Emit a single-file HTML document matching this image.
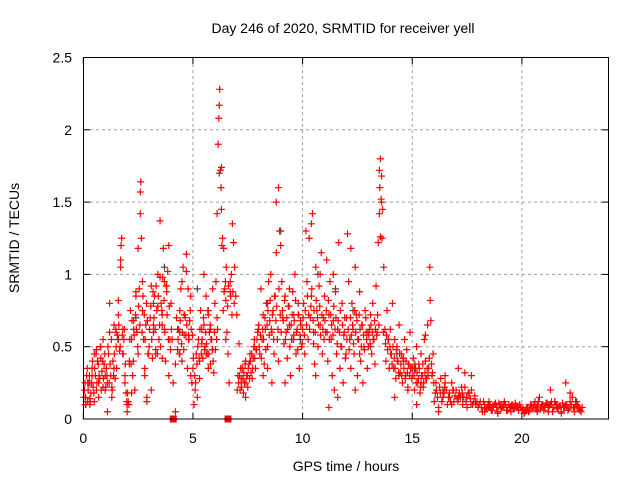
<!DOCTYPE html>
<html><head><meta charset="utf-8"><style>
body{margin:0;background:#fff;}
svg text{font-family:"Liberation Sans",sans-serif;font-size:14px;fill:#000;}
</style></head><body>
<svg id="chart" width="640" height="480">
<rect width="640" height="480" fill="#fff"/>
<text x="343" y="33" text-anchor="middle">Day 246 of 2020, SRMTID for receiver yell</text>
<text x="346" y="471" text-anchor="middle">GPS time / hours</text>
<text transform="translate(19,238) rotate(-90)" text-anchor="middle">SRMTID / TECUs</text>
<g id="grid"></g>
<g id="ticks"></g>
<g id="marks"></g>
<rect x="83.5" y="57.5" width="525" height="361.5" fill="none" stroke="#000"/>
</svg>
<script>
const xTicks=[0,5,10,15,20];
const yTicks=[0,0.5,1,1.5,2,2.5];
const yTickLabels=["0","0.5","1","1.5","2","2.5"];
const redT=[0.05,0.1,0.15,0.2,0.25,0.3,0.35,0.4,0.45,0.5,0.55,0.6,0.65,0.7,0.75,0.8,0.85,0.9,0.95,1.0,0.1,0.2,0.3,0.4,0.5,0.6,0.7,0.8,0.9,1.0,
1.05,1.1,1.15,1.2,1.25,1.3,1.35,1.4,1.45,1.5,1.55,1.6,1.65,1.7,1.72,1.75,1.8,1.85,1.9,1.95,1.1,1.2,1.3,1.4,1.5,1.6,1.7,1.8,1.9,2.0,
2.0,2.05,2.1,2.15,2.2,2.25,2.3,2.35,2.4,2.45,2.5,2.55,2.6,2.6,2.62,2.65,2.7,2.75,2.8,2.85,2.9,2.95,2.1,2.2,2.3,2.4,2.5,2.7,2.8,2.9,
3.0,3.05,3.1,3.15,3.2,3.25,3.3,3.35,3.4,3.45,3.5,3.55,3.6,3.65,3.7,3.75,3.8,3.85,3.9,3.95,3.1,3.2,3.3,3.4,3.6,3.7,3.8,3.9,3.5,3.6,
4.0,4.05,4.1,4.15,4.2,4.25,4.3,4.35,4.4,4.45,4.5,4.55,4.6,4.65,4.7,4.75,4.8,4.85,4.9,4.95,4.2,4.3,4.4,4.5,4.6,4.7,4.8,4.9,
5.0,5.05,5.1,5.15,5.2,5.25,5.3,5.35,5.4,5.45,5.5,5.55,5.6,5.65,5.7,5.75,5.8,5.85,5.9,5.95,5.3,5.4,5.5,5.6,5.7,5.8,5.9,
6.0,6.05,6.1,6.15,6.18,6.2,6.22,6.25,6.28,6.3,6.32,6.35,6.4,6.45,6.5,6.55,6.6,6.65,6.7,6.75,6.8,6.85,6.9,6.95,6.1,6.3,6.5,6.7,
7.0,7.05,7.1,7.15,7.2,7.25,7.3,7.35,7.4,7.45,7.5,7.55,7.6,7.65,7.7,7.75,7.8,7.85,7.9,7.95,7.2,7.4,7.6,7.8,
8.0,8.05,8.1,8.15,8.2,8.25,8.3,8.35,8.4,8.45,8.5,8.55,8.6,8.65,8.7,8.75,8.8,8.85,8.9,8.95,8.2,8.4,8.6,8.8,8.9,
9.0,9.05,9.1,9.15,9.2,9.25,9.3,9.35,9.4,9.45,9.5,9.55,9.6,9.65,9.7,9.75,9.8,9.85,9.9,9.95,9.2,9.4,9.6,9.8,
10.0,10.05,10.1,10.15,10.2,10.25,10.3,10.35,10.4,10.45,10.5,10.55,10.6,10.65,10.7,10.75,10.8,10.85,10.9,10.95,10.4,10.6,10.8,10.5,
11.0,11.05,11.1,11.15,11.2,11.25,11.3,11.35,11.4,11.45,11.5,11.55,11.6,11.65,11.7,11.75,11.8,11.85,11.9,11.95,11.2,11.4,11.6,
12.0,12.05,12.1,12.15,12.2,12.25,12.3,12.35,12.4,12.45,12.5,12.55,12.6,12.65,12.7,12.75,12.8,12.85,12.9,12.95,12.2,12.4,12.6,
13.0,13.05,13.1,13.15,13.2,13.25,13.3,13.35,13.4,13.45,13.5,13.52,13.55,13.58,13.6,13.62,13.65,13.7,13.75,13.8,13.85,13.9,13.95,13.5,13.55,13.6,
14.0,14.05,14.1,14.15,14.2,14.25,14.3,14.35,14.4,14.45,14.5,14.55,14.6,14.65,14.7,14.75,14.8,14.85,14.9,14.95,14.2,14.4,14.6,14.8,
15.0,15.05,15.1,15.15,15.2,15.25,15.3,15.35,15.4,15.45,15.5,15.55,15.6,15.65,15.7,15.75,15.8,15.82,15.85,15.9,15.95,15.2,15.4,15.6,
16.0,16.1,16.2,16.3,16.4,16.5,16.6,16.7,16.8,16.9,17.0,17.1,17.2,17.3,17.4,17.5,17.6,17.7,17.8,17.9,16.2,16.5,16.8,17.1,17.4,17.7,
18.0,18.1,18.2,18.3,18.4,18.5,18.6,18.7,18.8,18.9,19.0,19.1,19.2,19.3,19.4,19.5,19.6,19.7,19.8,19.9,
20.0,20.1,20.2,20.3,20.4,20.5,20.6,20.7,20.8,20.9,21.0,21.1,21.2,21.3,21.4,21.5,21.6,21.7,21.8,21.9,
22.0,22.1,22.2,22.3,22.4,22.5,22.6,22.7,21.3,21.5,22.0,22.2];
const redV=[0.2,0.15,0.3,0.12,0.25,0.1,0.18,0.35,0.22,0.45,0.3,0.2,0.4,0.15,0.28,0.5,0.33,0.22,0.38,0.3,0.1,0.25,0.14,0.3,0.12,0.48,0.25,0.42,0.55,0.2,
0.35,0.25,0.45,0.6,0.3,0.22,0.4,0.65,0.28,0.5,0.58,0.82,0.47,1.05,1.2,1.25,0.62,0.55,0.3,0.18,0.05,0.8,0.15,0.35,0.6,0.72,1.1,0.45,0.25,0.1,
0.05,0.12,0.4,0.75,0.55,0.3,0.68,0.2,0.85,0.6,0.45,0.9,1.42,1.57,1.64,1.25,0.75,0.55,0.3,0.65,0.15,0.45,0.38,0.18,0.62,0.88,1.18,0.95,0.35,0.12,
0.5,0.7,0.92,0.42,0.6,0.85,0.48,0.75,1.0,0.55,1.37,0.8,0.65,1.18,0.95,0.4,0.88,1.02,0.3,0.55,0.2,0.65,0.45,0.78,0.72,0.62,0.92,1.2,0.98,0.42,
0.8,0.55,0.25,0.0,0.05,0.7,0.48,0.62,0.75,0.9,0.4,1.05,0.58,0.7,1.14,0.35,0.55,0.68,0.85,0.25,0.38,0.62,0.45,0.95,0.72,1.02,0.58,0.3,
0.35,0.1,0.2,0.45,0.15,0.55,0.4,0.75,0.62,0.42,1.0,0.5,0.85,0.45,0.72,0.6,0.38,0.55,0.9,0.32,0.28,0.52,0.65,0.45,0.35,0.62,0.48,
0.8,0.95,1.42,1.9,2.08,2.17,2.28,1.72,1.6,1.45,1.2,1.25,1.18,0.9,0.82,0.6,0.45,0.25,0.88,1.0,1.35,1.22,1.05,0.85,0.7,1.74,0.55,0.95,
0.72,0.3,0.52,0.2,0.28,0.35,0.18,0.25,0.4,0.3,0.22,0.38,0.45,0.32,0.28,0.42,0.55,0.35,0.48,0.6,0.25,0.15,0.4,0.5,
0.65,0.45,0.9,0.55,0.72,0.38,0.62,0.8,0.5,0.95,0.68,1.0,0.6,0.75,0.45,0.85,1.15,0.55,1.6,1.3,0.3,0.35,0.25,1.5,0.4,
1.2,0.95,0.7,0.52,0.85,0.6,0.42,0.78,0.65,0.3,0.55,0.88,0.72,1.0,0.45,0.62,0.8,0.35,0.68,0.5,0.25,0.9,0.58,0.72,
0.62,0.8,0.45,1.3,0.95,0.55,1.25,0.7,0.85,1.42,0.6,0.38,1.05,0.75,0.5,0.92,0.65,1.15,0.45,0.7,1.35,0.3,1.0,0.52,
0.85,0.6,1.1,0.4,0.72,0.95,0.55,0.3,0.68,0.2,0.88,0.45,0.62,1.22,0.35,0.5,0.8,0.25,0.6,0.42,0.08,1.0,0.15,
0.7,1.28,0.95,0.55,0.35,0.8,0.62,0.45,1.05,0.72,0.3,0.55,0.88,0.4,0.65,0.25,0.5,0.75,0.6,0.35,1.18,0.2,0.45,
0.5,0.62,0.72,0.45,0.8,0.55,0.38,0.92,0.6,1.22,1.42,1.6,1.8,1.52,1.68,1.25,1.45,1.05,0.62,0.4,0.75,0.55,0.35,1.72,1.26,1.5,
0.62,0.45,0.8,0.35,0.55,0.28,0.5,0.4,0.65,0.32,0.45,0.25,0.4,0.55,0.3,0.48,0.2,0.38,0.6,0.35,0.15,0.3,0.42,0.22,
0.3,0.42,0.2,0.35,0.5,0.25,0.38,0.18,0.45,0.3,0.22,0.55,0.4,0.28,0.65,0.35,1.05,0.82,0.68,0.3,0.45,0.1,0.25,0.58,
0.12,0.2,0.08,0.28,0.15,0.3,0.1,0.18,0.25,0.12,0.2,0.35,0.15,0.1,0.22,0.08,0.18,0.3,0.12,0.1,0.05,0.25,0.1,0.15,0.32,0.2,
0.08,0.12,0.05,0.1,0.07,0.12,0.06,0.09,0.11,0.05,0.1,0.08,0.12,0.06,0.1,0.09,0.07,0.11,0.08,0.1,
0.06,0.04,0.08,0.05,0.1,0.07,0.12,0.05,0.15,0.09,0.06,0.11,0.08,0.1,0.05,0.12,0.07,0.09,0.05,0.08,
0.1,0.06,0.12,0.15,0.08,0.1,0.07,0.05,0.2,0.12,0.25,0.18];
const redT2=[0.02,0.08,0.12,0.18,0.22,0.28,0.32,0.38,0.42,0.48,0.52,0.58,0.62,0.68,0.72,0.78,0.82,0.88,0.92,0.98,
1.02,1.08,1.12,1.18,1.22,1.28,1.32,1.38,1.42,1.48,1.52,1.58,1.62,1.68,1.78,1.82,1.88,1.92,1.98,
2.02,2.08,2.12,2.18,2.22,2.28,2.32,2.38,2.42,2.48,2.52,2.58,2.68,2.72,2.78,2.82,2.88,2.92,2.98,
3.02,3.08,3.12,3.18,3.22,3.28,3.32,3.38,3.42,3.48,3.52,3.58,3.62,3.68,3.72,3.78,3.82,3.88,3.92,3.98,
4.02,4.32,4.38,4.42,4.48,4.52,4.58,4.62,4.68,4.72,4.78,4.82,4.88,4.92,4.98,
5.02,5.08,5.12,5.18,5.22,5.28,5.32,5.38,5.42,5.48,5.52,5.58,5.62,5.68,5.72,5.78,5.82,5.88,5.92,5.98,
6.02,6.08,6.12,6.38,6.42,6.48,6.52,6.58,6.62,6.72,6.78,6.82,6.88,
7.02,7.08,7.12,7.18,7.22,7.28,7.32,7.38,7.42,7.48,7.52,7.58,7.62,7.68,7.72,7.78,7.82,7.88,7.92,7.98,
8.02,8.08,8.12,8.18,8.22,8.28,8.32,8.38,8.42,8.48,8.52,8.58,8.62,8.68,8.72,8.78,8.82,8.88,8.92,8.98,
9.02,9.08,9.12,9.18,9.22,9.28,9.32,9.38,9.42,9.48,9.52,9.58,9.62,9.68,9.72,9.78,9.82,9.88,9.92,9.98,
10.02,10.08,10.12,10.18,10.22,10.28,10.32,10.38,10.42,10.48,10.52,10.58,10.62,10.68,10.72,10.78,10.82,10.88,10.92,10.98,
11.02,11.08,11.12,11.18,11.22,11.28,11.32,11.38,11.42,11.48,11.52,11.58,11.62,11.68,11.72,11.78,11.82,11.88,11.92,11.98,
12.02,12.08,12.12,12.18,12.22,12.28,12.32,12.38,12.42,12.48,12.52,12.58,12.62,12.68,12.72,12.78,12.82,12.88,12.92,12.98,
13.02,13.08,13.12,13.18,13.22,13.28,13.32,13.38,13.42,13.48,13.68,13.78,13.82,13.88,13.92,13.98,
14.02,14.08,14.12,14.18,14.22,14.28,14.32,14.38,14.42,14.48,14.52,14.58,14.62,14.68,14.72,14.78,14.82,14.88,14.92,14.98,
15.02,15.08,15.12,15.18,15.22,15.28,15.32,15.38,15.42,15.48,15.52,15.58,15.62,15.68,15.72,15.78,15.88,15.92,15.98,
16.05,16.15,16.25,16.35,16.45,16.55,16.65,16.75,16.85,16.95,17.05,17.15,17.25,17.35,17.45,17.55,17.65,17.75,17.85,17.95,
16.08,16.28,16.48,16.68,16.88,17.08,17.28,17.48,17.68,17.88,
18.05,18.15,18.25,18.35,18.45,18.55,18.65,18.75,18.85,18.95,19.05,19.15,19.25,19.35,19.45,19.55,19.65,19.75,19.85,19.95,
20.05,20.15,20.25,20.35,20.45,20.55,20.65,20.75,20.85,20.95,21.05,21.15,21.25,21.35,21.45,21.55,21.65,21.75,21.85,21.95,
22.05,22.15,22.25,22.35,22.45,22.55,22.65,22.75,18.3,18.9,19.5,20.1,20.7,21.2,21.8,22.4];
const redV2=[0.15,0.25,0.1,0.35,0.2,0.3,0.12,0.25,0.4,0.18,0.35,0.45,0.25,0.38,0.3,0.5,0.2,0.4,0.28,0.45,
0.22,0.3,0.5,0.25,0.38,0.55,0.2,0.3,0.45,0.62,0.35,0.55,0.65,0.5,0.58,0.45,0.62,0.38,0.12,
0.18,0.1,0.55,0.38,0.68,0.4,0.58,0.72,0.62,0.5,0.78,0.65,0.6,0.85,0.72,0.55,0.8,0.68,0.45,
0.62,0.78,0.55,0.88,0.7,0.62,0.92,0.45,0.85,0.65,0.5,0.75,0.98,0.82,0.6,0.92,0.72,0.55,0.78,0.48,
0.62,0.55,0.45,0.68,0.52,0.6,0.48,0.72,0.58,0.65,0.9,0.55,0.75,0.62,0.58,
0.42,0.3,0.25,0.38,0.5,0.42,0.62,0.45,0.55,0.7,0.48,0.6,0.52,0.75,0.45,0.65,0.55,0.48,0.4,0.6,
0.48,0.55,0.62,0.75,0.88,0.95,1.05,0.78,0.92,0.85,0.72,0.88,0.8,
0.2,0.25,0.3,0.35,0.22,0.28,0.32,0.38,0.25,0.3,0.35,0.28,0.4,0.45,0.35,0.5,0.42,0.48,0.55,0.62,
0.5,0.58,0.42,0.62,0.55,0.7,0.48,0.65,0.75,0.58,0.82,0.62,0.72,0.55,0.85,0.68,0.78,0.62,0.9,0.72,
0.6,0.75,0.68,0.82,0.55,0.7,0.62,0.78,0.5,0.65,0.72,0.55,0.68,0.82,0.6,0.48,0.72,0.58,0.65,0.52,
0.7,0.58,0.75,0.65,0.85,0.72,0.62,0.78,0.9,0.68,0.75,0.6,0.82,0.7,0.65,0.78,0.58,0.72,0.62,0.55,
0.68,0.75,0.6,0.82,0.55,0.72,0.65,0.58,0.78,0.62,0.7,0.52,0.68,0.6,0.75,0.5,0.65,0.58,0.7,0.45,
0.55,0.62,0.48,0.7,0.58,0.65,0.52,0.75,0.6,0.68,0.55,0.72,0.62,0.5,0.65,0.58,0.48,0.7,0.55,0.6,
0.58,0.52,0.65,0.6,0.55,0.68,0.62,0.58,0.72,0.65,0.6,0.52,0.58,0.48,0.55,0.5,
0.45,0.38,0.5,0.42,0.35,0.48,0.4,0.32,0.45,0.38,0.3,0.42,0.35,0.28,0.4,0.32,0.38,0.3,0.35,0.28,
0.35,0.3,0.38,0.25,0.32,0.28,0.35,0.22,0.3,0.38,0.25,0.32,0.28,0.35,0.3,0.42,0.38,0.32,0.25,
0.18,0.15,0.22,0.12,0.18,0.2,0.15,0.12,0.2,0.16,0.14,0.18,0.22,0.15,0.12,0.18,0.14,0.1,0.16,0.12,
0.25,0.18,0.22,0.15,0.2,0.12,0.18,0.15,0.1,0.12,
0.1,0.08,0.12,0.07,0.1,0.09,0.06,0.1,0.08,0.11,0.07,0.09,0.1,0.06,0.08,0.1,0.07,0.09,0.06,0.08,
0.07,0.05,0.08,0.06,0.09,0.1,0.08,0.12,0.07,0.1,0.08,0.11,0.09,0.12,0.08,0.1,0.07,0.09,0.11,0.08,
0.09,0.07,0.1,0.08,0.12,0.09,0.06,0.08,0.05,0.04,0.05,0.04,0.06,0.05,0.04,0.05];
const grayT=[0.3,1.6,2.4,3.2,3.7,4.4,5.2,5.7,6.2,7.4,8.4,9.0,9.9,10.7,11.5,12.3,13.1,14.3,15.1,16.4,17.3,18.5,19.6,20.7,21.6,22.5];
const grayV=[0.25,0.55,0.7,0.8,1.05,0.6,0.9,0.75,1.7,0.4,0.8,1.3,0.55,1.0,0.9,0.75,0.5,0.45,0.35,0.2,0.15,0.08,0.07,0.09,0.1,0.12];
const zeroT=[4.1,6.6];
const zeroV=[0,0];
const X=t=>83.3+t*21.93, Y=v=>419-v*144.6;
const NS="http://www.w3.org/2000/svg";
const grid=document.getElementById('grid'),ticks=document.getElementById('ticks'),marks=document.getElementById('marks');
function mk(tag,a,p){const e=document.createElementNS(NS,tag);for(const k in a)e.setAttribute(k,a[k]);p.appendChild(e);return e;}
xTicks.forEach(t=>{
  if(t>0){const g=mk('line',{x1:X(t),x2:X(t),y1:58,y2:418,stroke:'#a0a0a0','stroke-dasharray':'3,3'},grid);
  
  }
  const tl=mk('text',{x:X(t),y:443,'text-anchor':'middle'},ticks);tl.textContent=t;
  
  
  mk('line',{x1:X(t),x2:X(t),y1:419,y2:413,stroke:'#000'},ticks);
  mk('line',{x1:X(t),x2:X(t),y1:58,y2:64,stroke:'#000'},ticks);
});
yTicks.forEach((v,i)=>{
  if(v>0&&v<2.5){const g=mk('line',{x1:84,x2:608,y1:Y(v),y2:Y(v),stroke:'#a0a0a0','stroke-dasharray':'3,3'},grid);
  
  }
  const tl=mk('text',{x:72,y:Y(v)+5,'text-anchor':'end'},ticks);tl.textContent=yTickLabels[i];
  
  
  mk('line',{x1:84,x2:90,y1:Y(v),y2:Y(v),stroke:'#000'},ticks);
  mk('line',{x1:608,x2:602,y1:Y(v),y2:Y(v),stroke:'#000'},ticks);
});
function plus(t,v,c,name){const x=X(t),y=Y(v);
  const p=mk('path',{d:`M${x-3.5},${y}H${x+3.5}M${x},${y-3.5}V${y+3.5}`,stroke:c,'stroke-width':1.2,fill:'none'},marks);
  
  }
grayT.forEach((t,i)=>plus(t,grayV[i],'#444','gray-point'));
redT.forEach((t,i)=>plus(t,redV[i],'#f00','red-point'));
redT2.forEach((t,i)=>plus(t,redV2[i],'#f00','red-point'));
zeroT.forEach((t,i)=>{const r=mk('rect',{x:X(t)-3.5,y:Y(zeroV[i])-3.5,width:7,height:7,fill:'#f00'},marks);
  
  });
</script>
</body></html>
